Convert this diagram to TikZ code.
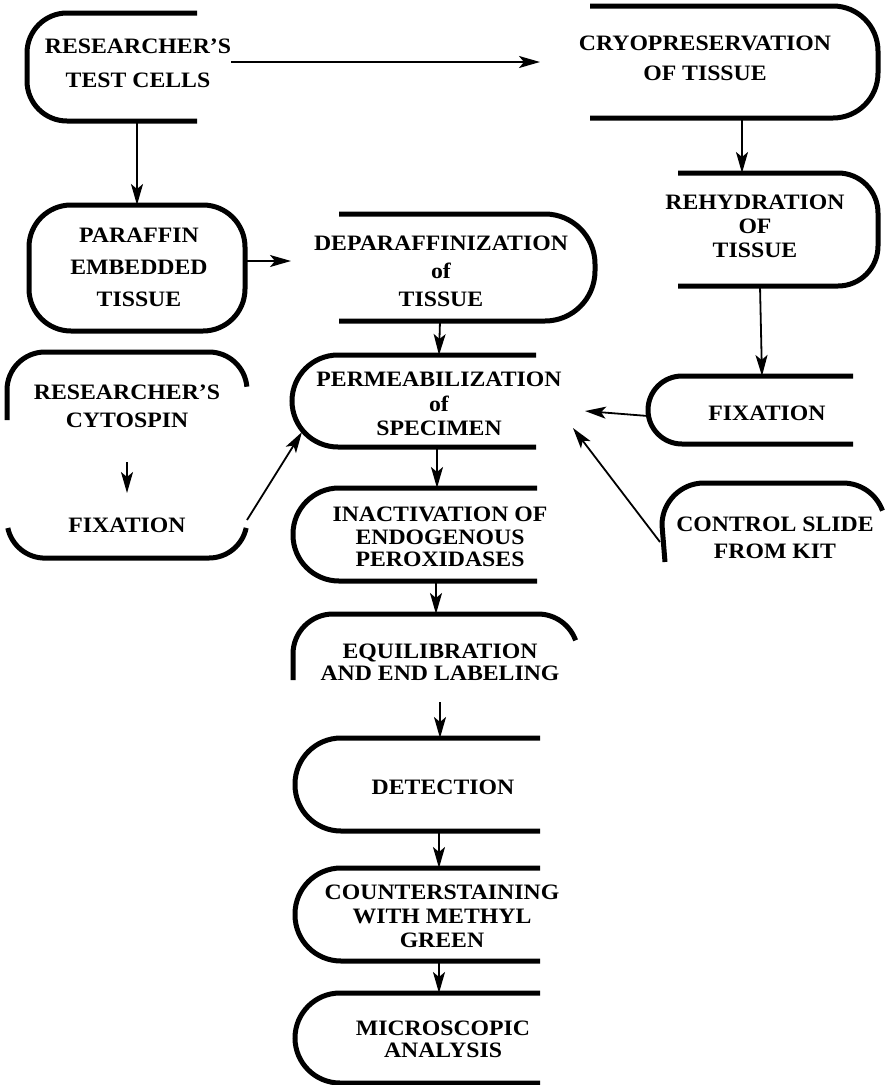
\documentclass[tikz,border=0pt]{standalone}
\usepackage{fontspec}
\setmainfont{Liberation Serif}[FakeStretch=1.08]
\usetikzlibrary{arrows.meta}

\begin{document}
\begin{tikzpicture}[x=1pt, y=-1pt, >={Stealth[length=21pt,width=12pt,inset=5pt]},
    flowbox/.style={line width=5pt},
    flowarrow/.style={->, line width=1.8pt},
    steplabel/.style={font=\bfseries\fontsize{22}{#1}\selectfont, align=center, inner sep=0pt},
    steplabel/.default=25]
    \useasboundingbox (0,0) rectangle (892,1085);

    % Left column: test cells and paraffin
    \draw[flowbox, rounded corners=40pt] (197,13) -- (27,13) -- (27,121) -- (197,121);
    \node[steplabel=34] (cells) at (138,63) {RESEARCHER’S\\TEST CELLS};
    \draw[flowbox, rounded corners=42pt] (29,205) rectangle (245,331);
    \node[steplabel=32] (paraffin) at (139,267) {PARAFFIN\\EMBEDDED\\TISSUE};

    % Right column: cryopreservation branch
    \draw[flowbox, rounded corners=45pt] (590,6) -- (878,6) -- (878,118) -- (590,118);
    \node[steplabel=30] (cryo) at (705,58) {CRYOPRESERVATION\\OF TISSUE};
    \draw[flowbox, rounded corners=40pt] (678,173) -- (878,173) -- (878,286) -- (678,286);
    \node[steplabel=24] (rehyd) at (755,226) {REHYDRATION\\OF\\TISSUE};
    \draw[flowbox, rounded corners=34pt] (853,376) -- (648,376) -- (648,444) -- (853,444);
    \node[steplabel] (fixright) at (767,413) {FIXATION};

    % Deparaffinization
    \draw[flowbox, rounded corners=50pt] (339,214) -- (595,214) -- (595,321) -- (339,321);
    \node[steplabel=28] (deparaf) at (441,271) {DEPARAFFINIZATION\\of\\TISSUE};

    % Cytospin box, open at both sides
    \draw[flowbox] (7,420) -- (7,390) arc[start angle=180, end angle=270, radius=38]
        -- (209,352) arc[start angle=270, end angle=355, radius=38];
    \draw[flowbox] (7.8,528) arc[start angle=168, end angle=90, radius=38]
        -- (209,558) arc[start angle=90, end angle=12, radius=38];
    \node[steplabel=28] (cyto) at (127,406) {RESEARCHER’S\\CYTOSPIN};
    \node[steplabel] (fixleft) at (127,525) {FIXATION};

    % Control slide
    \draw[flowbox] (665,562) -- (662,525) arc[start angle=180, end angle=270, radius=42]
        -- (843,483) arc[start angle=270, end angle=340, radius=42];
    \node[steplabel=27] (ctrl) at (775,538) {CONTROL SLIDE\\FROM KIT};

    % Main column
    \draw[flowbox, rounded corners=46pt] (536,355) -- (292,355) -- (292,447) -- (536,447);
    \node[steplabel=24.5] (perm) at (439,404) {PERMEABILIZATION\\of\\SPECIMEN};
    \draw[flowbox, rounded corners=46pt] (537,488) -- (293,488) -- (293,581) -- (537,581);
    \node[steplabel=22.5] (inact) at (440,537) {INACTIVATION OF\\ENDOGENOUS\\PEROXIDASES};
    \draw[flowbox] (293,680) -- (293,654) arc[start angle=180, end angle=270, radius=40]
        -- (538,614) arc[start angle=270, end angle=340, radius=40];
    \node[steplabel=22] (equil) at (440,662) {EQUILIBRATION\\AND END LABELING};
    \draw[flowbox, rounded corners=46pt] (540,738) -- (295,738) -- (295,831) -- (540,831);
    \node[steplabel] (detect) at (443,787) {DETECTION};
    \draw[flowbox, rounded corners=46pt] (540,868) -- (295,868) -- (295,961) -- (540,961);
    \node[steplabel=24] (counter) at (442,916) {COUNTERSTAINING\\WITH METHYL\\GREEN};
    \draw[flowbox, rounded corners=45pt] (540,993) -- (295,993) -- (295,1083) -- (540,1083);
    \node[steplabel=22] (micro) at (443,1039) {MICROSCOPIC\\ANALYSIS};

    % Connector ends
    \coordinate (cells-s) at (137,121);
    \coordinate (paraffin-n) at (137,205);
    \coordinate (cryo-w) at (540,62);
    \coordinate (cryo-s) at (742,118);
    \coordinate (rehyd-n) at (742,173);
    \coordinate (rehyd-s) at (760,286);
    \coordinate (fixright-n) at (762,376);
    \coordinate (fixright-w) at (648,416);
    \coordinate (paraffin-e) at (245,261);
    \coordinate (deparaf-w) at (291,261);
    \coordinate (deparaf-s) at (440,321);
    \coordinate (perm-n) at (439,355);
    \coordinate (perm-sw) at (302,432);
    \coordinate (perm-e) at (585,411);
    \coordinate (perm-se) at (573,428);
    \coordinate (perm-s) at (437,447);
    \coordinate (cyto-s) at (127,462);
    \coordinate (fixleft-n) at (127,493);
    \coordinate (cyto-e) at (247,520);
    \coordinate (ctrl-w) at (660,542);
    \coordinate (inact-n) at (437,488);
    \coordinate (inact-s) at (436,581);
    \coordinate (equil-n) at (436,614);
    \coordinate (equil-s) at (440,702);
    \coordinate (detect-n) at (440,738);
    \coordinate (detect-s) at (439,831);
    \coordinate (counter-n) at (439,868);
    \coordinate (counter-s) at (439,961);
    \coordinate (micro-n) at (439,993);

    % Connectors
    \draw[flowarrow] (cells.east |- cryo-w) -- (cryo-w);
    \draw[flowarrow] (cells-s) -- (paraffin-n);
    \draw[flowarrow] (cryo-s) -- (rehyd-n);
    \draw[flowarrow] (rehyd-s) -- (fixright-n);
    \draw[flowarrow] (paraffin-e) -- (deparaf-w);
    \draw[flowarrow] (deparaf-s) -- (perm-n);
    \draw[flowarrow] (cyto-s) -- (fixleft-n);
    \draw[flowarrow] (cyto-e) -- (perm-sw);
    \draw[flowarrow] (fixright-w) -- (perm-e);
    \draw[flowarrow] (ctrl-w) -- (perm-se);
    \draw[flowarrow] (perm-s) -- (inact-n);
    \draw[flowarrow] (inact-s) -- (equil-n);
    \draw[flowarrow] (equil-s) -- (detect-n);
    \draw[flowarrow] (detect-s) -- (counter-n);
    \draw[flowarrow] (counter-s) -- (micro-n);
\end{tikzpicture}
\end{document}
